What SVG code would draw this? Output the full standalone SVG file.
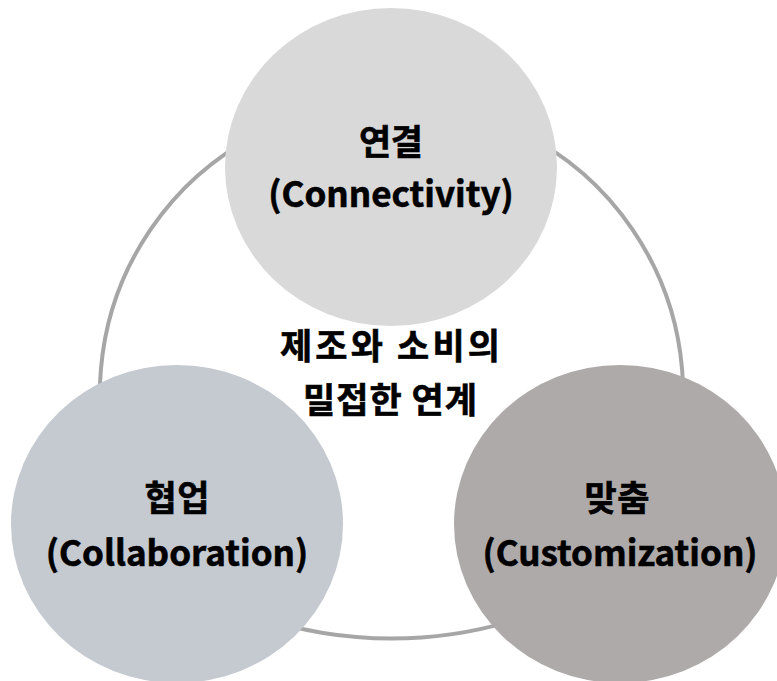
<svg xmlns="http://www.w3.org/2000/svg" width="777" height="681" viewBox="0 0 777 681">
  <style>
    .ring { fill: none; stroke: #a6a6a6; stroke-width: 4; }
    .label { font-family: "Malgun Gothic", "Noto Sans CJK KR", "Noto Sans", sans-serif; font-weight: bold; fill: #000; stroke: #000; stroke-width: 0.6; text-anchor: middle; }
    .ko { font-size: 35px; }
    .en { font-size: 35px; }
  </style>
  <rect width="777" height="681" fill="#ffffff"/>

  <!-- cycle ring linking the three nodes -->
  <g id="connectors">
    <path class="ring" d="M 120 500 A 291.6 291.6 0 1 1 663 500"/>
    <path class="ring" d="M 250 614 A 420 420 0 0 0 533 614"/>
  </g>

  <!-- centre caption -->
  <g id="center">
    <text class="label ko" x="390" y="359" textLength="220" lengthAdjust="spacing">제조와 소비의</text>
    <text class="label ko" x="390" y="413" textLength="174" lengthAdjust="spacing">밀접한 연계</text>
  </g>

  <g id="node-connectivity">
    <ellipse cx="391" cy="167" rx="166" ry="159" fill="#d9d9d9"/>
    <text class="label ko" x="391" y="155" textLength="64" lengthAdjust="spacing">연결</text>
    <text class="label en" x="391" y="207">(Connectivity)</text>
  </g>

  <g id="node-collaboration">
    <ellipse cx="177" cy="524" rx="166" ry="159" fill="#c5c9d0"/>
    <text class="label ko" x="177" y="511" textLength="65" lengthAdjust="spacing">협업</text>
    <text class="label en" x="177" y="566">(Collaboration)</text>
  </g>

  <g id="node-customization">
    <ellipse cx="620" cy="524" rx="166" ry="159" fill="#aeaaaa"/>
    <text class="label ko" x="617" y="511" textLength="65" lengthAdjust="spacing">맞춤</text>
    <text class="label en" x="620" y="566">(Customization)</text>
  </g>
</svg>
